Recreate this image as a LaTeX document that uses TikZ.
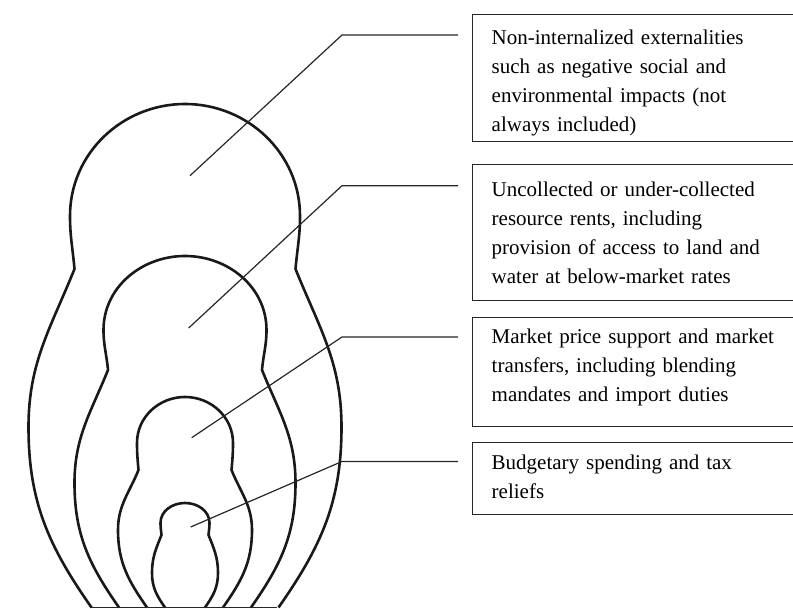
\documentclass[tikz,border=0pt]{standalone}
\usepackage{fontspec}
\setmainfont{Liberation Serif}
\usetikzlibrary{calc}
\tikzset{
  doll/.style={line width=2.6pt, draw=black!90, line join=round},
  leader/.style={line width=1.2pt, draw=black!85},
  infobox/.style={draw=black!85, line width=1.4pt, anchor=north west,
    text width=300pt, inner xsep=19pt, align=left,
    font=\fontsize{21}{29}\selectfont, text=black},
}
% one doll: top, head y, head half, neck y, neck half, body y, body half, foot half
\newcommand{\dollshape}[8]{%
  \draw[doll] ({185-#8},1.5) to[out=125,in=-90] ({185-#7},#6)
    to[out=90,in=-112] ({185-#5},#4) to[out=95,in=-90] ({185-#3},#2)
    to[out=90,in=180] (185,#1) to[out=0,in=90] ({185+#3},#2)
    to[out=-90,in=85] ({185+#5},#4) to[out=-68,in=90] ({185+#7},#6)
    to[out=-90,in=55] ({185+#8},1.5);
}

\begin{document}
\begin{tikzpicture}[x=1pt,y=1pt]
    \useasboundingbox (0,0) rectangle (793,609);
    % dolls
    \dollshape{505}{393}{115}{340}{110.5}{182}{156.5}{93.5}
    \dollshape{353}{279}{81.5}{239}{77}{126}{110.5}{66}
    \dollshape{212}{166}{48}{139}{46.5}{79}{67}{38}
    \dollshape{106}{86}{24.5}{74}{23.5}{36}{33}{20}
    \draw[leader] (90,1.5) -- (277,1.5);
    % boxes
    \node[infobox, minimum height=127pt] (extbox) at (472,595)
        {\rule{0pt}{25pt}Non-internalized externalities\\ such as negative social and\\ environmental impacts (not\\ always included)};
    \node[infobox, minimum height=136pt] (rentbox) at (472,445)
        {Uncollected or under-collected\\ resource rents, including\\ provision of access to land and\\ water at below-market rates};
    \node[infobox, minimum height=109pt] (pricebox) at (472,292)
        {Market price support and market\\ transfers, including blending\\ mandates and import duties\rule[-13pt]{0pt}{0pt}};
    \node[infobox, minimum height=72pt] (budgetbox) at (472,167)
        {Budgetary spending and tax\\ reliefs\rule[-4pt]{0pt}{0pt}};
    % leader points
    \coordinate (extin) at (190,433.3);
    \coordinate (extknee) at (342,574);
    \coordinate (rentin) at (188.7,281);
    \coordinate (rentknee) at (342,423.3);
    \coordinate (pricein) at (191.7,171.3);
    \coordinate (priceknee) at (342,272);
    \coordinate (budgetin) at (190.7,82);
    \coordinate (budgetknee) at (342,147.5);
    % leaders
    \draw[leader] (extin) -- (extknee) -- ([xshift=-14pt]extknee -| extbox.west);
    \draw[leader] (rentin) -- (rentknee) -- ([xshift=-14pt]rentknee -| rentbox.west);
    \draw[leader] (pricein) -- (priceknee) -- ([xshift=-14pt]priceknee -| pricebox.west);
    \draw[leader] (budgetin) -- (budgetknee) -- ([xshift=-14pt]budgetknee -| budgetbox.west);
\end{tikzpicture}
\end{document}
